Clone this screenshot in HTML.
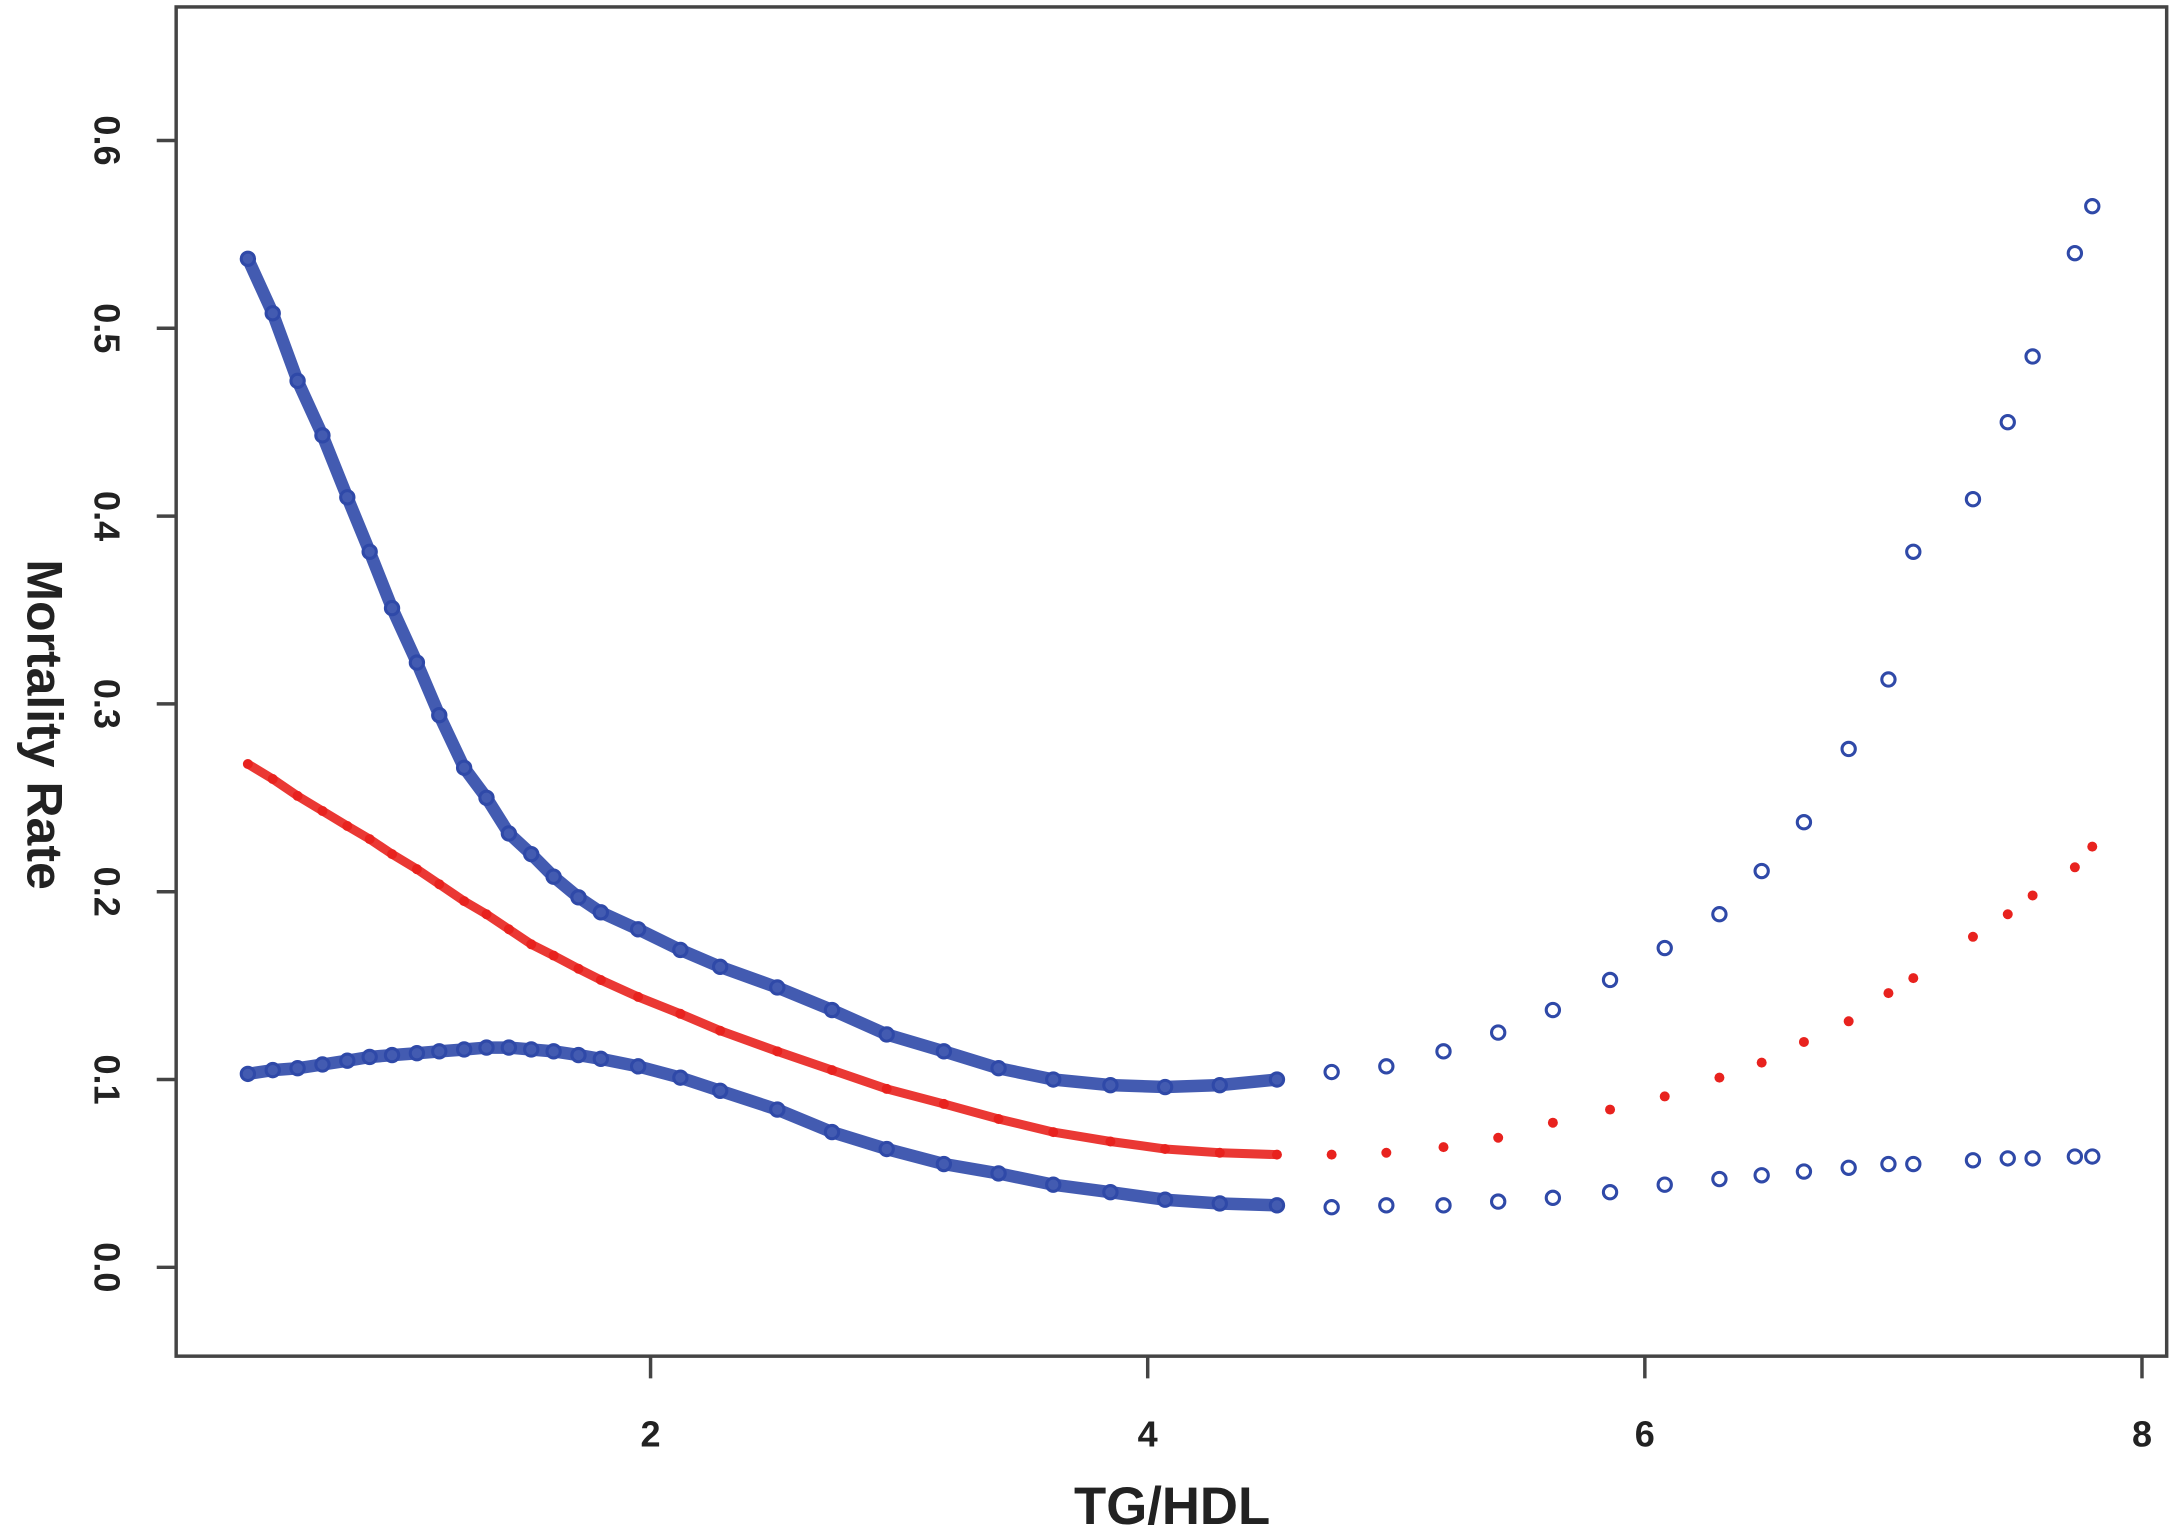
<!DOCTYPE html>
<html><head><meta charset="utf-8"><style>
html,body{margin:0;padding:0;background:#fff}
svg{display:block}
text{font-family:"Liberation Sans",Arial,sans-serif;font-weight:bold;fill:#222}
</style></head><body>
<svg id="chart" width="2175" height="1538" viewBox="0 0 1568 1108" preserveAspectRatio="none" xmlns="http://www.w3.org/2000/svg">
<rect x="127" y="5" width="1435" height="972" fill="none" stroke="#444" stroke-width="2.5"/>
<g id="axes"></g>
<g id="bands"></g>
<g id="marks"></g>
<text x="845" y="1098" text-anchor="middle" font-size="38">TG/HDL</text>
<text transform="translate(20,522) rotate(90)" text-anchor="middle" font-size="36">Mortality Rate</text>
</svg>
<script>
const xVals=[0.38,0.48,0.58,0.68,0.78,0.87,0.96,1.06,1.15,1.25,1.34,1.43,1.52,1.61,1.71,1.80,1.95,2.12,2.28,2.51,2.73,2.95,3.18,3.40,3.62,3.85,4.07,4.29,4.52,4.74,4.96,5.19,5.41,5.63,5.86,6.08,6.30,6.47,6.64,6.82,6.98,7.08,7.32,7.46,7.56,7.73,7.80];
const upperVals=[0.537,0.508,0.472,0.443,0.410,0.381,0.351,0.322,0.294,0.266,0.250,0.231,0.220,0.208,0.197,0.189,0.180,0.169,0.160,0.149,0.137,0.124,0.115,0.106,0.100,0.097,0.096,0.097,0.100,0.104,0.107,0.115,0.125,0.137,0.153,0.170,0.188,0.211,0.237,0.276,0.313,0.381,0.409,0.450,0.485,0.540,0.565];
const midVals=[0.268,0.260,0.251,0.243,0.235,0.228,0.220,0.212,0.204,0.195,0.188,0.180,0.172,0.166,0.159,0.153,0.144,0.135,0.126,0.115,0.105,0.095,0.087,0.079,0.072,0.067,0.063,0.061,0.060,0.060,0.061,0.064,0.069,0.077,0.084,0.091,0.101,0.109,0.120,0.131,0.146,0.154,0.176,0.188,0.198,0.213,0.224];
const lowerVals=[0.103,0.105,0.106,0.108,0.110,0.112,0.113,0.114,0.115,0.116,0.117,0.117,0.116,0.115,0.113,0.111,0.107,0.101,0.094,0.084,0.072,0.063,0.055,0.050,0.044,0.040,0.036,0.034,0.033,0.032,0.033,0.033,0.035,0.037,0.040,0.044,0.047,0.049,0.051,0.053,0.055,0.055,0.057,0.058,0.058,0.059,0.059];
const xTicks=[2,4,6,8];
const yTicks=[0.0,0.1,0.2,0.3,0.4,0.5,0.6];
const yTickLabels=["0.0","0.1","0.2","0.3","0.4","0.5","0.6"];
const xTickLabels=["2","4","6","8"];

const NS="http://www.w3.org/2000/svg";
function sx(v){return 469+(v-2)*179.2;}
function sy(v){return 913-v*1353;}
function mk(tag,attrs,parent){const e=document.createElementNS(NS,tag);for(const k in attrs)e.setAttribute(k,attrs[k]);parent.appendChild(e);return e;}
const axes=document.getElementById('axes');
xTicks.forEach((t,i)=>{
  const l=mk('line',{x1:sx(t),x2:sx(t),y1:977,y2:993,stroke:'#444','stroke-width':2.5},axes);
  
  
  const tx=mk('text',{x:sx(t),y:1042,'text-anchor':'middle','font-size':26},axes);
  tx.textContent=xTickLabels[i];
  
  
});
yTicks.forEach((t,i)=>{
  const l=mk('line',{x1:113,x2:127,y1:sy(t),y2:sy(t),stroke:'#444','stroke-width':2.5},axes);
  
  
  const tx=mk('text',{transform:'translate(68,'+sy(t)+') rotate(90)','text-anchor':'middle','font-size':26},axes);
  tx.textContent=yTickLabels[i];
  
  
});
const bands=document.getElementById('bands');
function band(vals,color,w,name){
  const pts=[];xVals.forEach((x,i)=>{if(x<=4.6)pts.push(sx(x)+','+sy(vals[i]));});
  const p=mk('polyline',{points:pts.join(' '),fill:'none',stroke:color,'stroke-width':w,'stroke-linecap':'round','stroke-linejoin':'round','stroke-opacity':0.9},bands);
  
  
}
band(upperVals,'#2f49a8',9,'upper-ci-band');
band(lowerVals,'#2f49a8',9,'lower-ci-band');
band(midVals,'#e8221e',6.5,'estimate-band');
const marks=document.getElementById('marks');
xVals.forEach((x,i)=>{
  const a=mk('circle',{cx:sx(x),cy:sy(upperVals[i]),r:4.8,fill:'none',stroke:'#2f49a8','stroke-width':2.2},marks);
  
  
  const b=mk('circle',{cx:sx(x),cy:sy(lowerVals[i]),r:4.8,fill:'none',stroke:'#2f49a8','stroke-width':2.2},marks);
  
  
  const c=mk('circle',{cx:sx(x),cy:sy(midVals[i]),r:3.6,fill:'#e8221e'},marks);
  
  
});
</script>
</body></html>
